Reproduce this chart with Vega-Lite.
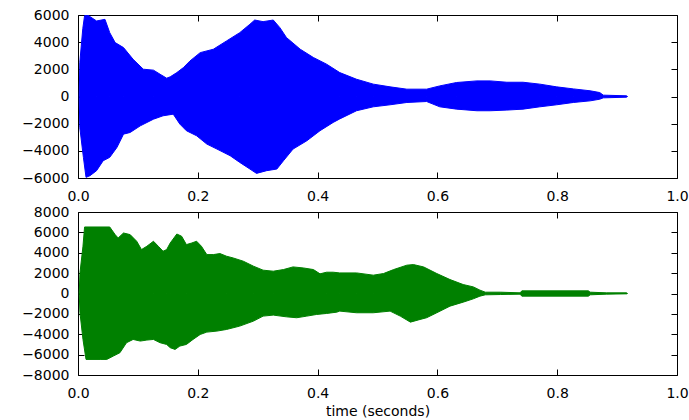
{
  "$schema": "https://vega.github.io/schema/vega-lite/v6.json",
  "padding": {"left": 21, "top": 7, "right": 2, "bottom": 5},
  "background": "white",
  "spacing": 34,
  "bounds": "flush",
  "datasets": {
    "top": [
      {"t": 0.002, "v": 0, "side": "u"},
      {"t": 0.003, "v": 2500, "side": "u"},
      {"t": 0.008, "v": 5000, "side": "u"},
      {"t": 0.011, "v": 5950, "side": "u"},
      {"t": 0.016, "v": 6000, "side": "u"},
      {"t": 0.031, "v": 5560, "side": "u"},
      {"t": 0.045, "v": 5680, "side": "u"},
      {"t": 0.053, "v": 4700, "side": "u"},
      {"t": 0.062, "v": 3970, "side": "u"},
      {"t": 0.076, "v": 3600, "side": "u"},
      {"t": 0.092, "v": 2740, "side": "u"},
      {"t": 0.109, "v": 2010, "side": "u"},
      {"t": 0.126, "v": 1940, "side": "u"},
      {"t": 0.137, "v": 1640, "side": "u"},
      {"t": 0.148, "v": 1350, "side": "u"},
      {"t": 0.154, "v": 1450, "side": "u"},
      {"t": 0.165, "v": 1760, "side": "u"},
      {"t": 0.176, "v": 2130, "side": "u"},
      {"t": 0.187, "v": 2620, "side": "u"},
      {"t": 0.204, "v": 3230, "side": "u"},
      {"t": 0.226, "v": 3480, "side": "u"},
      {"t": 0.248, "v": 4090, "side": "u"},
      {"t": 0.270, "v": 4700, "side": "u"},
      {"t": 0.287, "v": 5320, "side": "u"},
      {"t": 0.295, "v": 5630, "side": "u"},
      {"t": 0.309, "v": 5510, "side": "u"},
      {"t": 0.326, "v": 5630, "side": "u"},
      {"t": 0.337, "v": 5070, "side": "u"},
      {"t": 0.348, "v": 4340, "side": "u"},
      {"t": 0.371, "v": 3480, "side": "u"},
      {"t": 0.393, "v": 2870, "side": "u"},
      {"t": 0.415, "v": 2380, "side": "u"},
      {"t": 0.437, "v": 1760, "side": "u"},
      {"t": 0.465, "v": 1270, "side": "u"},
      {"t": 0.493, "v": 910, "side": "u"},
      {"t": 0.521, "v": 710, "side": "u"},
      {"t": 0.549, "v": 540, "side": "u"},
      {"t": 0.582, "v": 540, "side": "u"},
      {"t": 0.604, "v": 780, "side": "u"},
      {"t": 0.632, "v": 1030, "side": "u"},
      {"t": 0.666, "v": 1150, "side": "u"},
      {"t": 0.688, "v": 1150, "side": "u"},
      {"t": 0.716, "v": 1050, "side": "u"},
      {"t": 0.743, "v": 1050, "side": "u"},
      {"t": 0.771, "v": 910, "side": "u"},
      {"t": 0.799, "v": 710, "side": "u"},
      {"t": 0.827, "v": 560, "side": "u"},
      {"t": 0.855, "v": 420, "side": "u"},
      {"t": 0.871, "v": 290, "side": "u"},
      {"t": 0.877, "v": 100, "side": "u"},
      {"t": 0.916, "v": 50, "side": "u"},
      {"t": 0.917, "v": 0, "side": "u"},
      {"t": 0.002, "v": 0, "side": "l"},
      {"t": 0.003, "v": -2280, "side": "l"},
      {"t": 0.009, "v": -4480, "side": "l"},
      {"t": 0.0134, "v": -5950, "side": "l"},
      {"t": 0.020, "v": -5830, "side": "l"},
      {"t": 0.031, "v": -5460, "side": "l"},
      {"t": 0.042, "v": -4730, "side": "l"},
      {"t": 0.053, "v": -4480, "side": "l"},
      {"t": 0.065, "v": -3750, "side": "l"},
      {"t": 0.076, "v": -2770, "side": "l"},
      {"t": 0.087, "v": -2650, "side": "l"},
      {"t": 0.104, "v": -2160, "side": "l"},
      {"t": 0.126, "v": -1670, "side": "l"},
      {"t": 0.142, "v": -1420, "side": "l"},
      {"t": 0.159, "v": -1300, "side": "l"},
      {"t": 0.170, "v": -2030, "side": "l"},
      {"t": 0.181, "v": -2520, "side": "l"},
      {"t": 0.198, "v": -2890, "side": "l"},
      {"t": 0.215, "v": -3500, "side": "l"},
      {"t": 0.232, "v": -3870, "side": "l"},
      {"t": 0.254, "v": -4360, "side": "l"},
      {"t": 0.270, "v": -4850, "side": "l"},
      {"t": 0.287, "v": -5340, "side": "l"},
      {"t": 0.298, "v": -5660, "side": "l"},
      {"t": 0.315, "v": -5460, "side": "l"},
      {"t": 0.332, "v": -5340, "side": "l"},
      {"t": 0.343, "v": -4730, "side": "l"},
      {"t": 0.359, "v": -3870, "side": "l"},
      {"t": 0.382, "v": -3260, "side": "l"},
      {"t": 0.404, "v": -2520, "side": "l"},
      {"t": 0.426, "v": -1910, "side": "l"},
      {"t": 0.437, "v": -1650, "side": "l"},
      {"t": 0.465, "v": -1050, "side": "l"},
      {"t": 0.493, "v": -760, "side": "l"},
      {"t": 0.521, "v": -610, "side": "l"},
      {"t": 0.549, "v": -440, "side": "l"},
      {"t": 0.582, "v": -370, "side": "l"},
      {"t": 0.604, "v": -760, "side": "l"},
      {"t": 0.632, "v": -930, "side": "l"},
      {"t": 0.666, "v": -1050, "side": "l"},
      {"t": 0.688, "v": -1050, "side": "l"},
      {"t": 0.716, "v": -1000, "side": "l"},
      {"t": 0.743, "v": -930, "side": "l"},
      {"t": 0.771, "v": -760, "side": "l"},
      {"t": 0.799, "v": -610, "side": "l"},
      {"t": 0.827, "v": -440, "side": "l"},
      {"t": 0.855, "v": -320, "side": "l"},
      {"t": 0.871, "v": -200, "side": "l"},
      {"t": 0.877, "v": -100, "side": "l"},
      {"t": 0.916, "v": -50, "side": "l"},
      {"t": 0.917, "v": 0, "side": "l"}
    ],
    "bot": [
      {"t": 0.002, "v": 0, "side": "u"},
      {"t": 0.0033, "v": 2020, "side": "u"},
      {"t": 0.0083, "v": 4640, "side": "u"},
      {"t": 0.011, "v": 6530, "side": "u"},
      {"t": 0.053, "v": 6530, "side": "u"},
      {"t": 0.062, "v": 5780, "side": "u"},
      {"t": 0.067, "v": 5450, "side": "u"},
      {"t": 0.076, "v": 5940, "side": "u"},
      {"t": 0.087, "v": 5780, "side": "u"},
      {"t": 0.098, "v": 5130, "side": "u"},
      {"t": 0.106, "v": 4310, "side": "u"},
      {"t": 0.115, "v": 4640, "side": "u"},
      {"t": 0.126, "v": 5130, "side": "u"},
      {"t": 0.134, "v": 4640, "side": "u"},
      {"t": 0.142, "v": 4150, "side": "u"},
      {"t": 0.148, "v": 4310, "side": "u"},
      {"t": 0.154, "v": 4960, "side": "u"},
      {"t": 0.165, "v": 5840, "side": "u"},
      {"t": 0.173, "v": 5620, "side": "u"},
      {"t": 0.181, "v": 4800, "side": "u"},
      {"t": 0.190, "v": 4960, "side": "u"},
      {"t": 0.198, "v": 5130, "side": "u"},
      {"t": 0.206, "v": 4640, "side": "u"},
      {"t": 0.215, "v": 3820, "side": "u"},
      {"t": 0.226, "v": 3820, "side": "u"},
      {"t": 0.237, "v": 3920, "side": "u"},
      {"t": 0.248, "v": 3660, "side": "u"},
      {"t": 0.259, "v": 3490, "side": "u"},
      {"t": 0.276, "v": 3170, "side": "u"},
      {"t": 0.293, "v": 2680, "side": "u"},
      {"t": 0.309, "v": 2290, "side": "u"},
      {"t": 0.326, "v": 2190, "side": "u"},
      {"t": 0.343, "v": 2350, "side": "u"},
      {"t": 0.359, "v": 2610, "side": "u"},
      {"t": 0.376, "v": 2510, "side": "u"},
      {"t": 0.393, "v": 2350, "side": "u"},
      {"t": 0.404, "v": 1930, "side": "u"},
      {"t": 0.415, "v": 2090, "side": "u"},
      {"t": 0.426, "v": 2090, "side": "u"},
      {"t": 0.437, "v": 2020, "side": "u"},
      {"t": 0.465, "v": 2020, "side": "u"},
      {"t": 0.493, "v": 1800, "side": "u"},
      {"t": 0.510, "v": 1960, "side": "u"},
      {"t": 0.527, "v": 2350, "side": "u"},
      {"t": 0.549, "v": 2780, "side": "u"},
      {"t": 0.560, "v": 2840, "side": "u"},
      {"t": 0.577, "v": 2610, "side": "u"},
      {"t": 0.599, "v": 1960, "side": "u"},
      {"t": 0.621, "v": 1370, "side": "u"},
      {"t": 0.643, "v": 880, "side": "u"},
      {"t": 0.660, "v": 650, "side": "u"},
      {"t": 0.671, "v": 330, "side": "u"},
      {"t": 0.680, "v": 130, "side": "u"},
      {"t": 0.705, "v": 130, "side": "u"},
      {"t": 0.738, "v": 65, "side": "u"},
      {"t": 0.741, "v": 260, "side": "u"},
      {"t": 0.852, "v": 260, "side": "u"},
      {"t": 0.855, "v": 130, "side": "u"},
      {"t": 0.882, "v": 65, "side": "u"},
      {"t": 0.916, "v": 65, "side": "u"},
      {"t": 0.917, "v": 0, "side": "u"},
      {"t": 0.002, "v": 0, "side": "l"},
      {"t": 0.0033, "v": -1890, "side": "l"},
      {"t": 0.0083, "v": -4510, "side": "l"},
      {"t": 0.0134, "v": -6470, "side": "l"},
      {"t": 0.037, "v": -6470, "side": "l"},
      {"t": 0.048, "v": -6470, "side": "l"},
      {"t": 0.059, "v": -6140, "side": "l"},
      {"t": 0.070, "v": -5810, "side": "l"},
      {"t": 0.081, "v": -4830, "side": "l"},
      {"t": 0.092, "v": -4510, "side": "l"},
      {"t": 0.104, "v": -4670, "side": "l"},
      {"t": 0.115, "v": -4570, "side": "l"},
      {"t": 0.126, "v": -4510, "side": "l"},
      {"t": 0.137, "v": -4830, "side": "l"},
      {"t": 0.148, "v": -5000, "side": "l"},
      {"t": 0.154, "v": -5320, "side": "l"},
      {"t": 0.162, "v": -5490, "side": "l"},
      {"t": 0.170, "v": -5160, "side": "l"},
      {"t": 0.181, "v": -5000, "side": "l"},
      {"t": 0.192, "v": -4510, "side": "l"},
      {"t": 0.204, "v": -4020, "side": "l"},
      {"t": 0.215, "v": -3790, "side": "l"},
      {"t": 0.232, "v": -3690, "side": "l"},
      {"t": 0.248, "v": -3530, "side": "l"},
      {"t": 0.270, "v": -3200, "side": "l"},
      {"t": 0.293, "v": -2710, "side": "l"},
      {"t": 0.309, "v": -2220, "side": "l"},
      {"t": 0.326, "v": -2120, "side": "l"},
      {"t": 0.348, "v": -2290, "side": "l"},
      {"t": 0.365, "v": -2380, "side": "l"},
      {"t": 0.382, "v": -2220, "side": "l"},
      {"t": 0.398, "v": -2060, "side": "l"},
      {"t": 0.415, "v": -1960, "side": "l"},
      {"t": 0.432, "v": -1830, "side": "l"},
      {"t": 0.437, "v": -1730, "side": "l"},
      {"t": 0.465, "v": -1890, "side": "l"},
      {"t": 0.493, "v": -1890, "side": "l"},
      {"t": 0.521, "v": -1730, "side": "l"},
      {"t": 0.538, "v": -2220, "side": "l"},
      {"t": 0.555, "v": -2810, "side": "l"},
      {"t": 0.571, "v": -2550, "side": "l"},
      {"t": 0.582, "v": -2380, "side": "l"},
      {"t": 0.599, "v": -1890, "side": "l"},
      {"t": 0.621, "v": -1240, "side": "l"},
      {"t": 0.643, "v": -850, "side": "l"},
      {"t": 0.660, "v": -520, "side": "l"},
      {"t": 0.671, "v": -260, "side": "l"},
      {"t": 0.680, "v": -130, "side": "l"},
      {"t": 0.705, "v": -100, "side": "l"},
      {"t": 0.738, "v": -65, "side": "l"},
      {"t": 0.741, "v": -260, "side": "l"},
      {"t": 0.852, "v": -260, "side": "l"},
      {"t": 0.855, "v": -130, "side": "l"},
      {"t": 0.882, "v": -65, "side": "l"},
      {"t": 0.916, "v": -33, "side": "l"},
      {"t": 0.917, "v": 0, "side": "l"}
    ]
  },
  "vconcat": [
    {
      "width": 599,
      "height": 163,
      "data": {"name": "top"},
      "layer": [
        {
          "mark": {"type": "area", "color": "#0000ff", "stroke": "#0000ff", "strokeWidth": 1, "clip": true},
          "encoding": {
            "x": {"field": "t", "type": "quantitative", "scale": {"domain": [0, 1], "nice": false, "zero": false}, "axis": {"orient": "bottom", "title": null, "values": [0, 0.2, 0.4, 0.6, 0.8, 1.0], "format": ".1f", "labelPadding": 17}},
            "y": {"field": "v", "type": "quantitative", "stack": null, "scale": {"domain": [-6000, 6000], "nice": false}, "axis": {"orient": "left", "title": null, "values": [-6000, -4000, -2000, 0, 2000, 4000, 6000], "format": "d", "labelPadding": 15}},
            "y2": {"datum": 0},
            "detail": {"field": "side", "type": "nominal"}
          }
        },
        {
          "mark": {"type": "point", "opacity": 0},
          "encoding": {
            "x": {"field": "t", "type": "quantitative", "axis": {"orient": "top", "title": null, "labels": false, "values": [0, 0.2, 0.4, 0.6, 0.8, 1.0]}},
            "y": {"field": "v", "type": "quantitative", "axis": {"orient": "right", "title": null, "labels": false, "values": [-6000, -4000, -2000, 0, 2000, 4000, 6000]}}
          }
        }
      ],
      "resolve": {"axis": {"x": "independent", "y": "independent"}}
    },
    {
      "width": 599,
      "height": 163,
      "data": {"name": "bot"},
      "layer": [
        {
          "mark": {"type": "area", "color": "#008000", "stroke": "#008000", "strokeWidth": 1, "clip": true},
          "encoding": {
            "x": {"field": "t", "type": "quantitative", "scale": {"domain": [0, 1], "nice": false, "zero": false}, "axis": {"orient": "bottom", "title": "time (seconds)", "values": [0, 0.2, 0.4, 0.6, 0.8, 1.0], "format": ".1f", "labelPadding": 17, "titlePadding": 4}},
            "y": {"field": "v", "type": "quantitative", "stack": null, "scale": {"domain": [-8000, 8000], "nice": false}, "axis": {"orient": "left", "title": null, "values": [-8000, -6000, -4000, -2000, 0, 2000, 4000, 6000, 8000], "format": "d", "labelPadding": 15}},
            "y2": {"datum": 0},
            "detail": {"field": "side", "type": "nominal"}
          }
        },
        {
          "mark": {"type": "point", "opacity": 0},
          "encoding": {
            "x": {"field": "t", "type": "quantitative", "axis": {"orient": "top", "title": null, "labels": false, "values": [0, 0.2, 0.4, 0.6, 0.8, 1.0]}},
            "y": {"field": "v", "type": "quantitative", "axis": {"orient": "right", "title": null, "labels": false, "values": [-8000, -6000, -4000, -2000, 0, 2000, 4000, 6000, 8000]}}
          }
        }
      ],
      "resolve": {"axis": {"x": "independent", "y": "independent"}}
    }
  ],
  "config": {
    "view": {"stroke": "black", "strokeWidth": 1},
    "axis": {
      "domain": false,
      "grid": false,
      "ticks": true,
      "tickSize": -6,
      "tickColor": "black",
      "tickWidth": 1,
      "labelFont": "DejaVu Sans",
      "labelFontSize": 14,
      "labelColor": "black",
      "labelOverlap": false,
      "labelFlush": false,
      "labelBound": false,
      "titleFont": "DejaVu Sans",
      "titleFontSize": 14,
      "titleFontWeight": "normal",
      "titleColor": "black"
    }
  }
}
